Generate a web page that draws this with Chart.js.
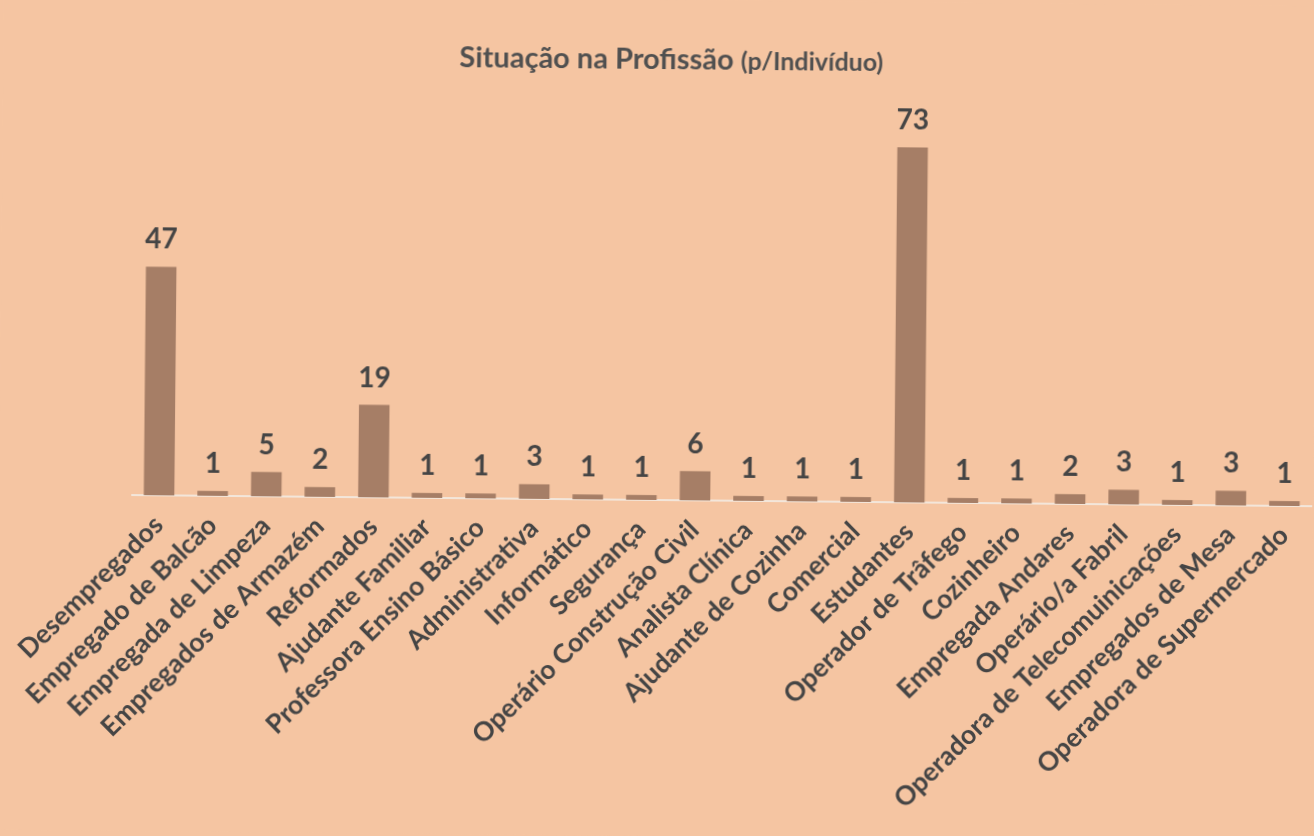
<!DOCTYPE html>
<html>
<head>
<meta charset="utf-8">
<script src="https://cdn.jsdelivr.net/npm/chart.js@4.4.1/dist/chart.umd.min.js"></script>
<style>
    html, body { margin: 0; padding: 0; background: #f5c5a2; overflow: hidden; }
    #wrap { width: 1314px; height: 836px; transform: rotate(0.54deg); }
</style>
</head>
<body>
<div id="wrap"><canvas id="profChart" width="1314" height="836"></canvas></div>
<script>
    // Dados do gráfico
    var categorias = [
        "Desempregados", "Empregado de Balcão", "Empregada de Limpeza", "Empregados de Armazém",
        "Reformados", "Ajudante Familiar", "Professora Ensino Básico", "Administrativa",
        "Informático", "Segurança", "Operário Construção Civil", "Analista Clínica",
        "Ajudante de Cozinha", "Comercial", "Estudantes", "Operador de Trâfego",
        "Cozinheiro", "Empregada Andares", "Operário/a Fabril", "Operadora de Telecomuinicações",
        "Empregados de Mesa", "Operadora de Supermercado"
    ];
    var valores = [47, 1, 5, 2, 19, 1, 1, 3, 1, 1, 6, 1, 1, 1, 73, 1, 1, 2, 3, 1, 3, 1];
    var titulo = "Situação na Profissão";
    var subtitulo = "(p/Indivíduo)";

    var fundo = "#f5c5a2";
    var corTexto = "#454545";

    // fundo + título em duas partes (tamanhos diferentes)
    var fundoPlugin = {
        id: "fundo",
        beforeDraw: function (chart) {
            var ctx = chart.ctx;
            ctx.save();
            ctx.fillStyle = fundo;
            ctx.fillRect(0, 0, chart.width, chart.height);
            ctx.restore();
        },
        afterDraw: function (chart) {
            var ctx = chart.ctx;
            ctx.save();
            ctx.fillStyle = "#505050";
            ctx.textBaseline = "alphabetic";
            ctx.font = "bold 29px Lato";
            var w1 = ctx.measureText(titulo + " ").width;
            ctx.font = "bold 25px Lato";
            var w2 = ctx.measureText(subtitulo).width;
            var x = 668 - (w1 + w2) / 2;
            ctx.font = "bold 29px Lato";
            ctx.fillText(titulo + " ", x, 69);
            ctx.font = "bold 25px Lato";
            ctx.fillText(subtitulo, x + w1, 69);
            ctx.restore();
        }
    };

    // rótulos de valor por cima das barras
    var rotulosPlugin = {
        id: "rotulos",
        afterDatasetsDraw: function (chart) {
            var ctx = chart.ctx;
            var meta = chart.getDatasetMeta(0);
            ctx.save();
            ctx.fillStyle = corTexto;
            ctx.font = "bold 28px Lato";
            ctx.textAlign = "center";
            ctx.textBaseline = "alphabetic";
            meta.data.forEach(function (bar, i) {
                ctx.fillText(valores[i], bar.x, bar.y - 18);
            });
            ctx.restore();
        }
    };

    var ctx = document.getElementById("profChart").getContext("2d");
    var chart = new Chart(ctx, {
        type: "bar",
        data: {
            labels: categorias,
            datasets: [{
                data: valores,
                backgroundColor: "#a67e66",
                borderWidth: 0,
                barPercentage: 0.57,
                categoryPercentage: 1
            }]
        },
        options: {
            responsive: false,
            animation: false,
            layout: { padding: { top: 111, left: 133, right: 2, bottom: 0 } },
            plugins: {
                legend: { display: false },
                tooltip: { enabled: false }
            },
            scales: {
                x: {
                    grid: { display: false, drawTicks: false },
                    border: { display: true, color: "#f3e6da", width: 2 },
                    ticks: {
                        color: corTexto,
                        font: { family: "Lato", size: 26.5, weight: "bold" },
                        autoSkip: false,
                        minRotation: 45,
                        maxRotation: 45,
                        padding: 14
                    },
                    afterFit: function (scale) {
                        scale.height = 336;
                        scale.paddingLeft = 0;
                        scale.paddingRight = 0;
                    }
                },
                y: {
                    display: false,
                    min: 0,
                    max: 80
                }
            }
        },
        plugins: [fundoPlugin, rotulosPlugin]
    });
</script>
</body>
</html>
